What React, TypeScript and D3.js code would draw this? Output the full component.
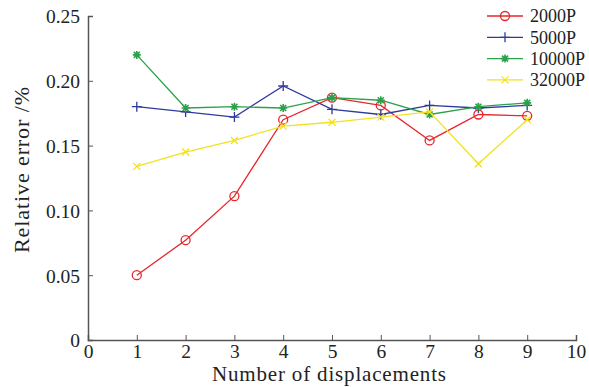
import React, { useEffect, useRef } from "react";
import * as d3 from "d3";

const displacements = [1, 2, 3, 4, 5, 6, 7, 8, 9];
const p2000 = [0.05, 0.077, 0.111, 0.17, 0.187, 0.181, 0.154, 0.174, 0.173];
const p5000 = [0.18, 0.176, 0.172, 0.196, 0.178, 0.174, 0.181, 0.179, 0.181];
const p10000 = [0.22, 0.179, 0.18, 0.179, 0.187, 0.185, 0.174, 0.18, 0.183];
const p32000 = [0.134, 0.145, 0.154, 0.165, 0.168, 0.172, 0.176, 0.136, 0.17];

const seriesNames = ["2000P", "5000P", "10000P", "32000P"];
const xTicks = [0, 1, 2, 3, 4, 5, 6, 7, 8, 9, 10];
const yTicks = [0, 0.05, 0.1, 0.15, 0.2, 0.25];

export default function App() {
  const svgRef = useRef<SVGSVGElement>(null);

  useEffect(() => {
    const svg = d3.select(svgRef.current);
    svg.selectAll("*").remove();
    const width = 589;
    const height = 387;
    const margin = { top: 16, right: 13, bottom: 47, left: 88 };
    const font = "Liberation Serif, Times New Roman, DejaVu Serif, serif";
    const axisColor = "#555";

    const x = d3.scaleLinear().domain([0, 10]).range([margin.left, width - margin.right]);
    const y = d3.scaleLinear().domain([0, 0.25]).range([height - margin.bottom, margin.top]);

    // axes, ticks pointing inward
    const gx = svg
      .append("g")
      .attr("transform", `translate(0,${height - margin.bottom})`)
      .call(d3.axisBottom(x).tickValues(xTicks).tickSize(-5).tickPadding(6).tickFormat(d3.format("d")));
    const gy = svg
      .append("g")
      .attr("transform", `translate(${margin.left},0)`)
      .call(
        d3
          .axisLeft(y)
          .tickValues(yTicks)
          .tickSize(-5)
          .tickPadding(8)
          .tickFormat((d) => (+d === 0 ? "0" : d3.format(".2f")(+d)))
      );
    [gx, gy].forEach((g) => {
      g.attr("font-family", font).attr("font-size", 19.5);
      g.select(".domain").attr("stroke", axisColor).attr("stroke-width", 1.5);
      g.selectAll(".tick line").attr("stroke", axisColor);
      g.selectAll("text").attr("fill", "#222");
    });
    gx.selectAll("text").attr("dy", "0.6em");
    gy.selectAll("text").attr("dy", "0.35em");

    svg
      .append("text")
      .attr("x", (margin.left + width - margin.right) / 2 - 3)
      .attr("y", 381)
      .attr("text-anchor", "middle")
      .attr("font-family", font)
      .attr("font-size", 21)
      .attr("fill", "#222")
      .attr("textLength", 234)
      .text("Number of displacements");

    svg
      .append("text")
      .attr("transform", "translate(29,170) rotate(-90)")
      .attr("text-anchor", "middle")
      .attr("font-family", font)
      .attr("font-size", 22)
      .attr("fill", "#222")
      .attr("textLength", 166)
      .text("Relative error /%");

    const seriesValues = [p2000, p5000, p10000, p32000];
    const colors = ["#e8262b", "#2e3a9c", "#2ba24a", "#f2e21c"];

    const drawMarker = (g: any, kind: number, cx: number, cy: number, color: string) => {
      if (kind === 0) {
        g.append("circle").attr("cx", cx).attr("cy", cy).attr("r", 4.5).attr("fill", "none").attr("stroke", color).attr("stroke-width", 1.3);
      } else if (kind === 1) {
        g.append("path").attr("d", `M${cx - 5},${cy}H${cx + 5}M${cx},${cy - 5}V${cy + 5}`).attr("stroke", color).attr("stroke-width", 1.3);
      } else if (kind === 2) {
        const s = 4;
        g.append("path")
          .attr("d", `M${cx - s},${cy}H${cx + s}M${cx},${cy - s}V${cy + s}M${cx - s * 0.75},${cy - s * 0.75}L${cx + s * 0.75},${cy + s * 0.75}M${cx - s * 0.75},${cy + s * 0.75}L${cx + s * 0.75},${cy - s * 0.75}`)
          .attr("stroke", color)
          .attr("stroke-width", 1.6);
      } else {
        const s = 3.5;
        g.append("path").attr("d", `M${cx - s},${cy - s}L${cx + s},${cy + s}M${cx - s},${cy + s}L${cx + s},${cy - s}`).attr("stroke", color).attr("stroke-width", 1.3);
      }
    };

    const line = d3
      .line<number>()
      .x((_, i) => x(displacements[i]))
      .y((d) => y(d));

    seriesValues.forEach((vals, k) => {
      const g = svg.append("g");
      g.append("path").attr("d", line(vals)).attr("fill", "none").attr("stroke", colors[k]).attr("stroke-width", 1.3);
      vals.forEach((v, i) => drawMarker(g, k, x(displacements[i]), y(v), colors[k]));
    });

    // legend
    const legend = svg.append("g").attr("transform", "translate(487,16)");
    seriesNames.forEach((name, k) => {
      const ly = k * 21.3;
      legend.append("line").attr("x1", 0).attr("x2", 36).attr("y1", ly).attr("y2", ly).attr("stroke", colors[k]).attr("stroke-width", 1.3);
      drawMarker(legend, k, 18, ly, colors[k]);
      legend
        .append("text")
        .attr("x", 43)
        .attr("y", ly)
        .attr("dy", "0.35em")
        .attr("font-family", font)
        .attr("font-size", 18)
        .attr("fill", "#222")
        .text(name);
    });
  }, []);

  return <svg ref={svgRef} width={589} height={387} style={{ position: "absolute", left: 0, top: 0, background: "#fff" }} />;
}
